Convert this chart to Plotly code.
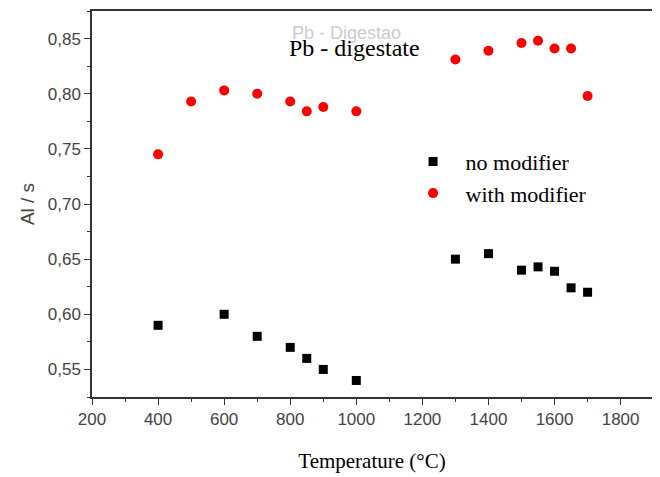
import plotly.graph_objects as go

temps_no = [400, 600, 700, 800, 850, 900, 1000, 1300, 1400, 1500, 1550, 1600, 1650, 1700]
vals_no = [0.590, 0.600, 0.580, 0.570, 0.560, 0.550, 0.540, 0.650, 0.655, 0.640, 0.643, 0.639, 0.624, 0.620]

temps_mod = [400, 500, 600, 700, 800, 850, 900, 1000, 1300, 1400, 1500, 1550, 1600, 1650, 1700]
vals_mod = [0.745, 0.793, 0.803, 0.800, 0.793, 0.784, 0.788, 0.784, 0.831, 0.839, 0.846, 0.848, 0.841, 0.841, 0.798]

x_ticks = [200, 400, 600, 800, 1000, 1200, 1400, 1600, 1800]
y_ticks = [0.55, 0.60, 0.65, 0.70, 0.75, 0.80, 0.85]

serif = "Liberation Serif, Times New Roman, serif"
sans = "Liberation Sans, Arial, sans-serif"

fig = go.Figure()
fig.add_trace(go.Scatter(x=temps_no, y=vals_no, mode="markers", name="no modifier",
                         marker=dict(symbol="square", size=9, color="black")))
fig.add_trace(go.Scatter(x=temps_mod, y=vals_mod, mode="markers", name="with modifier",
                         marker=dict(symbol="circle", size=10, color="#ff0000")))

axis_common = dict(showline=True, linecolor="#333", linewidth=1.5, mirror=True,
                   ticks="outside", ticklen=6, tickcolor="#333", showgrid=False, zeroline=False,
                   automargin=False,
                   tickfont=dict(family=sans, size=17, color="#444"))

fig.update_xaxes(range=[200, 1895], tickvals=x_ticks, **axis_common,
                 minor=dict(dtick=100, ticks="outside", ticklen=3, tickcolor="#333"),
                 title=dict(text="Temperature (°C)", font=dict(family=serif, size=21, color="black"), standoff=25))
fig.update_yaxes(range=[0.525, 0.875], tickvals=y_ticks, tickformat=".2f", **axis_common,
                 minor=dict(dtick=0.025, tick0=0.525, ticks="outside", ticklen=3, tickcolor="#333"),
                 title=dict(text="Al / s", font=dict(family=sans, size=19, color="#444"), standoff=8))

fig.add_annotation(x=0.454, y=0.943, xref="paper", yref="paper", xanchor="center", yanchor="middle",
                   text="Pb - Digestao", showarrow=False,
                   font=dict(family=sans, size=18, color="#cccccc"))
fig.add_annotation(x=0.468, y=0.904, xref="paper", yref="paper", xanchor="center", yanchor="middle",
                   text="Pb - digestate", showarrow=False,
                   font=dict(family=serif, size=24, color="black"))

fig.update_layout(
    width=660, height=477,
    margin=dict(l=84, r=16, t=3, b=88, autoexpand=False),
    plot_bgcolor="white", paper_bgcolor="white",
    separators=",.",
    showlegend=True,
    legend=dict(x=0.551, y=0.664, xanchor="left", yanchor="top", bgcolor="rgba(0,0,0,0)",
                font=dict(family=serif, size=22, color="black"), itemwidth=55,
                tracegroupgap=0),
)

fig.write_html("out.html")
